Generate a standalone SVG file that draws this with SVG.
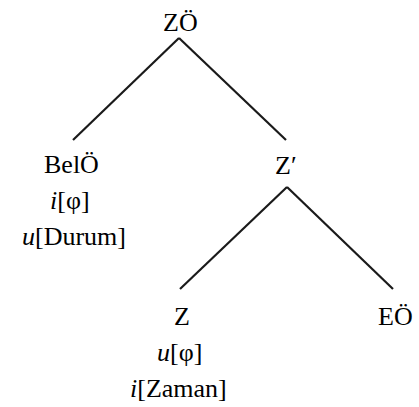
<svg xmlns="http://www.w3.org/2000/svg" width="419" height="407" viewBox="0 0 419 407">
  <rect width="419" height="407" fill="#ffffff"/>
  <!-- tree branches -->
  <g id="connectors" stroke="#1a1a1a" stroke-width="2.2" fill="none">
    <line x1="179" y1="38" x2="73" y2="140"/>
    <line x1="179" y1="38" x2="286" y2="140"/>
    <line x1="287" y1="187" x2="180" y2="289"/>
    <line x1="287" y1="187" x2="393" y2="289"/>
  </g>
  <g id="node-ZO">
    <text x="163" y="31" font-family="Times New Roman" font-size="26">ZÖ</text>
  </g>
  <g id="node-BelO">
    <text x="44" y="173" font-family="Times New Roman" font-size="26">BelÖ</text>
    <text x="50" y="209" font-family="Times New Roman" font-size="26"><tspan font-style="italic">i</tspan>[φ]</text>
    <text x="22" y="245" font-family="Times New Roman" font-size="26"><tspan font-style="italic">u</tspan>[Durum]</text>
  </g>
  <g id="node-Zbar">
    <text x="275" y="174" font-family="Times New Roman" font-size="26">Z′</text>
  </g>
  <g id="node-Z">
    <text x="174" y="325" font-family="Times New Roman" font-size="26">Z</text>
    <text x="157" y="361" font-family="Times New Roman" font-size="26"><tspan font-style="italic">u</tspan>[φ]</text>
    <text x="130" y="397" font-family="Times New Roman" font-size="26"><tspan font-style="italic">i</tspan>[Zaman]</text>
  </g>
  <g id="node-EO">
    <text x="378" y="325" font-family="Times New Roman" font-size="26">EÖ</text>
  </g>
</svg>
